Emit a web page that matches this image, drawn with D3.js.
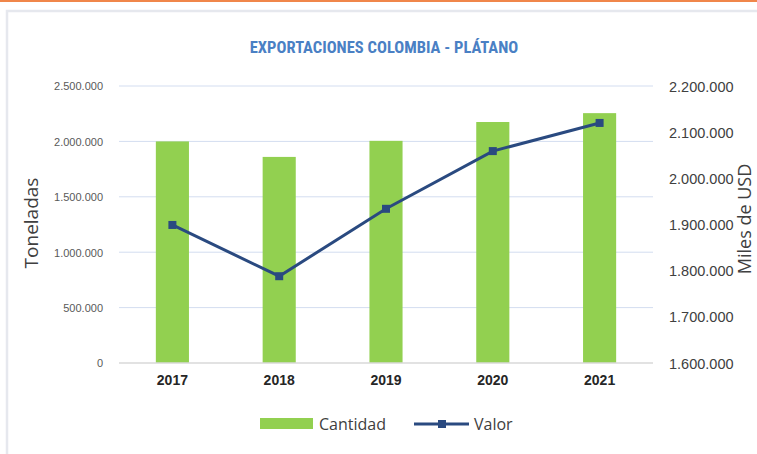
<!DOCTYPE html>
<html>
<head>
<meta charset="utf-8">
<script src="https://cdn.jsdelivr.net/npm/d3@7"></script>
<style>
  body { margin: 0; background: #fff; }
  svg { display: block; font-family: Lato, "Open Sans", sans-serif; }
</style>
</head>
<body>
<svg id="chart" width="757" height="454"></svg>
<script>
// data
var years = ["2017", "2018", "2019", "2020", "2021"];
var cantidad = [2000000, 1860000, 2005000, 2175000, 2255000];   // toneladas
var valor = [1899000, 1788000, 1934000, 2059000, 2120000];      // miles de USD
var leftTicks = [0, 500000, 1000000, 1500000, 2000000, 2500000];
var rightTicks = [1600000, 1700000, 1800000, 1900000, 2000000, 2100000, 2200000];

var svg = d3.select("#chart");
var fmt = function(v) { return d3.format(",")(v).replace(/,/g, "."); };

// page decoration: orange rule and chart frame
svg.append("rect").attr("x", 0).attr("y", 0).attr("width", 757).attr("height", 2).attr("fill", "#f0864a");
svg.append("rect").attr("x", 7).attr("y", 11).attr("width", 760).attr("height", 460)
    .attr("fill", "none").attr("stroke", "#e6e8ee").attr("stroke-width", 2.5);

var plot = { left: 119, right: 653, top: 86, bottom: 363 };

var x = d3.scaleBand().domain(years).range([plot.left, plot.right])
    .paddingInner(0.69).paddingOuter(0.345);
var xc = function(d) { return x(d) + x.bandwidth() / 2; };
var yL = d3.scaleLinear().domain([0, 2500000]).range([plot.bottom, plot.top]);
var yR = d3.scaleLinear().domain([1600000, 2200000]).range([plot.bottom, plot.top]);

// gridlines
svg.append("g").selectAll("line").data(leftTicks.slice(1)).enter().append("line")
    .attr("x1", plot.left).attr("x2", plot.right)
    .attr("y1", function(d) { return yL(d); }).attr("y2", function(d) { return yL(d); })
    .attr("stroke", "#d3ddf0").attr("stroke-width", 1);

// bars
svg.append("g").selectAll("rect").data(cantidad).enter().append("rect")
    .attr("x", function(d, i) { return x(years[i]); })
    .attr("width", x.bandwidth())
    .attr("y", function(d) { return yL(d); })
    .attr("height", function(d) { return yL(0) - yL(d); })
    .attr("fill", "#92d050");

// baseline
svg.append("line").attr("x1", plot.left).attr("x2", plot.right)
    .attr("y1", plot.bottom).attr("y2", plot.bottom)
    .attr("stroke", "#d9d9d9").attr("stroke-width", 1.5);

// line series
var line = d3.line()
    .x(function(d, i) { return xc(years[i]); })
    .y(function(d) { return yR(d); });
svg.append("path").datum(valor).attr("d", line)
    .attr("fill", "none").attr("stroke", "#2a4a80").attr("stroke-width", 3);
svg.append("g").selectAll("rect").data(valor).enter().append("rect")
    .attr("x", function(d, i) { return xc(years[i]) - 4; })
    .attr("y", function(d) { return yR(d) - 4; })
    .attr("width", 8).attr("height", 8)
    .attr("fill", "#2a4a80");

// left axis
var axL = svg.append("g").attr("transform", "translate(" + (plot.left - 13) + ",0)")
    .call(d3.axisLeft(yL).tickValues(leftTicks).tickFormat(fmt).tickSize(0));
axL.select(".domain").remove();
axL.selectAll("text").attr("font-size", 11).attr("fill", "#595959").attr("dy", "0.35em")
    .style("font-family", "inherit");

// right axis
var axR = svg.append("g").attr("transform", "translate(" + (plot.right + 16) + ",0)")
    .call(d3.axisRight(yR).tickValues(rightTicks).tickFormat(fmt).tickSize(0));
axR.select(".domain").remove();
axR.selectAll("text").attr("x", 0).attr("font-size", 14.5).attr("fill", "#404040").attr("dy", "0.35em")
    .style("font-family", "inherit");

// x axis
var axX = svg.append("g").attr("transform", "translate(0," + (plot.bottom + 2) + ")")
    .call(d3.axisBottom(x).tickSize(0));
axX.select(".domain").remove();
axX.selectAll("text").attr("font-size", 14).attr("font-weight", "bold").attr("fill", "#262626")
    .attr("dy", "1.2em").style("font-family", "inherit");

// title
svg.append("text").attr("x", 384).attr("y", 53).attr("text-anchor", "middle")
    .style("font-family", "'Liberation Sans Narrow', 'Roboto Condensed', Lato, sans-serif")
    .attr("font-size", 16.5).attr("font-weight", "bold").attr("fill", "#4a80c4")
    .text("EXPORTACIONES COLOMBIA - PLÁTANO");

// axis titles
svg.append("text").attr("transform", "translate(38,223) rotate(-90)")
    .attr("text-anchor", "middle").attr("font-size", 19).attr("fill", "#404040")
    .style("font-family", "'Open Sans', sans-serif")
    .text("Toneladas");
svg.append("text").attr("transform", "translate(751,219) rotate(-90)")
    .attr("text-anchor", "middle").attr("font-size", 18).attr("fill", "#404040")
    .style("font-family", "'Open Sans', sans-serif")
    .text("Miles de USD");

// legend
var lg = svg.append("g").style("font-family", "'Open Sans', sans-serif");
lg.append("rect").attr("x", 260).attr("y", 418).attr("width", 53).attr("height", 11).attr("fill", "#92d050");
lg.append("text").attr("x", 319).attr("y", 430).attr("font-size", 16).attr("fill", "#404040").text("Cantidad");
lg.append("line").attr("x1", 414).attr("x2", 469).attr("y1", 424).attr("y2", 424)
    .attr("stroke", "#2a4a80").attr("stroke-width", 3);
lg.append("rect").attr("x", 438).attr("y", 420).attr("width", 8).attr("height", 8).attr("fill", "#2a4a80");
lg.append("text").attr("x", 474).attr("y", 430).attr("font-size", 16).attr("fill", "#404040").text("Valor");
</script>
</body>
</html>
